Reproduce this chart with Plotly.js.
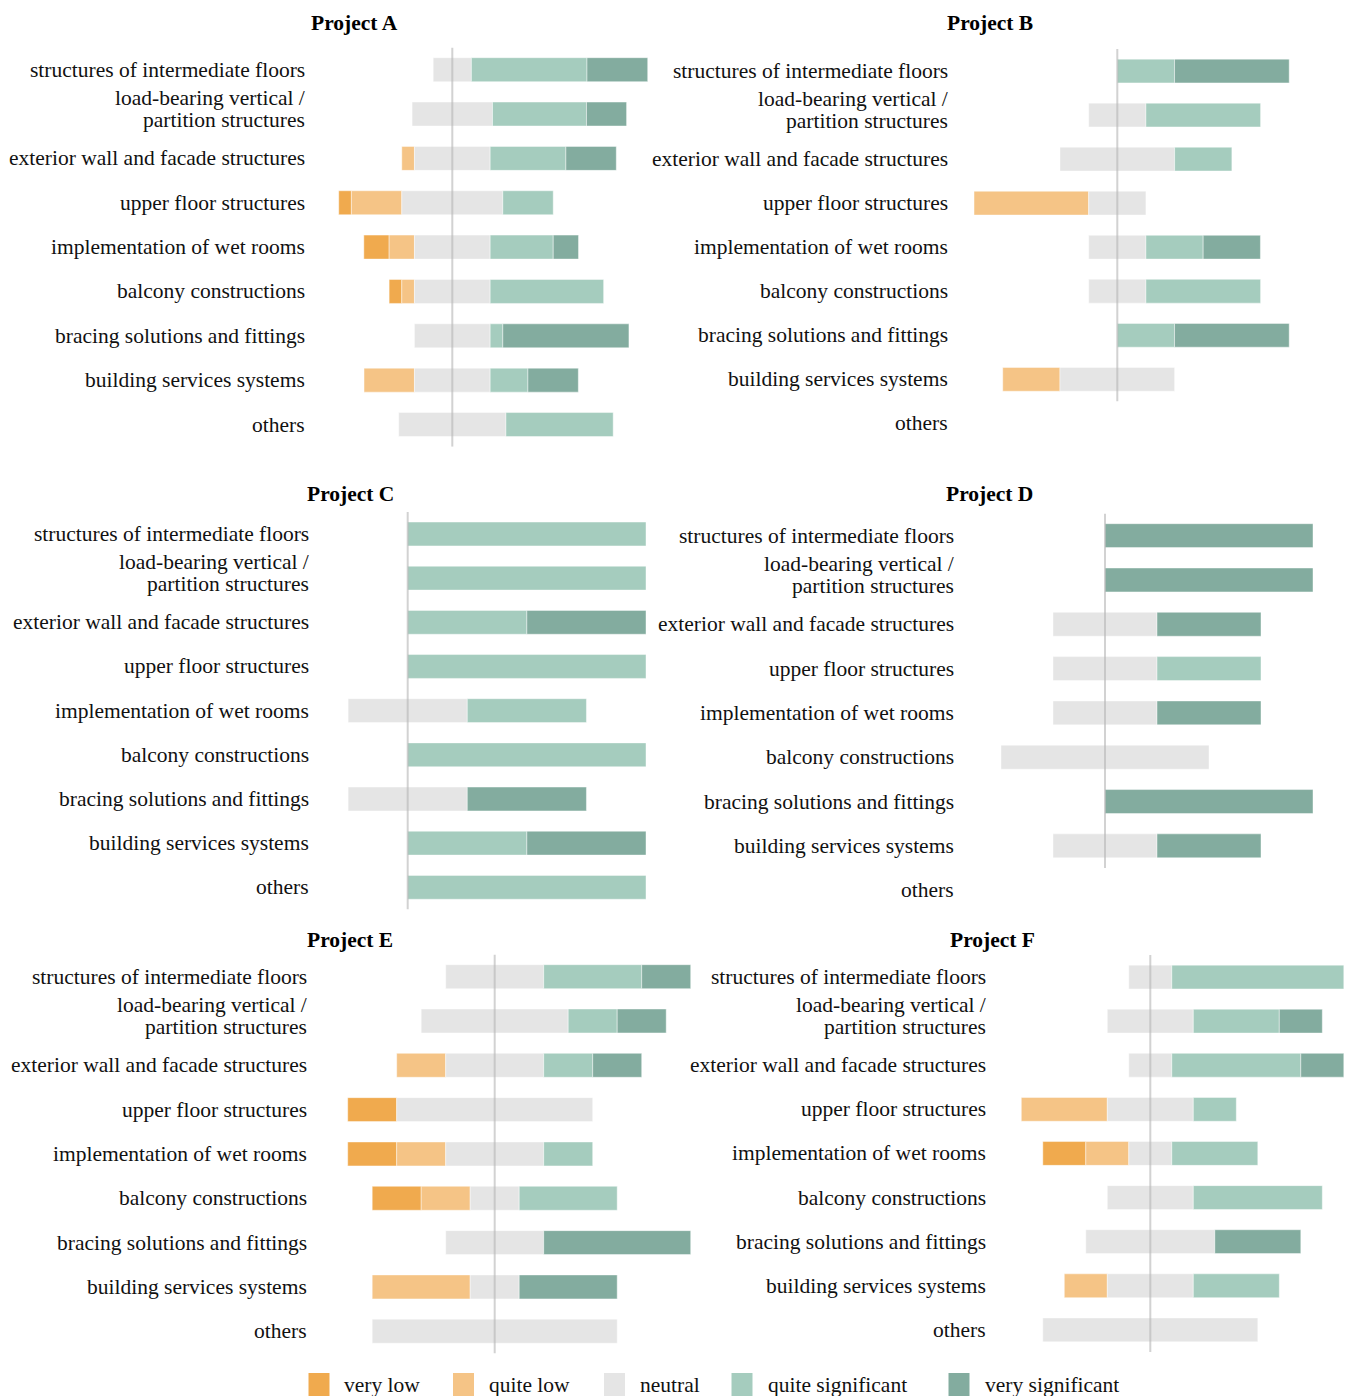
<!DOCTYPE html>
<html><head><meta charset="utf-8">
<script src="https://cdn.plot.ly/plotly-3.0.1.min.js"></script>
<style>html,body{margin:0;padding:0;background:#fff}</style>
</head><body><div id="chart" style="width:1351px;height:1396px"></div>
<script>
// ---------- DATA (share of responses, %) ----------
const categories = [
  'structures of intermediate floors',
  'load-bearing vertical /<br>partition structures',
  'exterior wall and facade structures',
  'upper floor structures',
  'implementation of wet rooms',
  'balcony constructions',
  'bracing solutions and fittings',
  'building services systems',
  'others'
];
const levelNames = ['very low', 'quite low', 'neutral', 'quite significant', 'very significant'];
const levelColors = ['#F0AA4E', '#F5C486', '#E5E5E5', '#A5CCBE', '#83AC9F'];
const projectNames = ['Project A', 'Project B', 'Project C', 'Project D', 'Project E', 'Project F'];

const A_veryLow  = [0, 0, 0, 5.9, 11.8, 5.9, 0, 0, 0];
const A_quiteLow = [0, 0, 5.9, 23.5, 11.8, 5.9, 0, 23.5, 0];
const A_neutral  = [17.8, 37.5, 35.3, 47.1, 35.3, 35.3, 35.3, 35.3, 50];
const A_quiteSig = [53.9, 43.8, 35.3, 23.5, 29.4, 52.9, 5.9, 17.6, 50];
const A_verySig  = [28.3, 18.7, 23.5, 0, 11.8, 0, 58.8, 23.5, 0];

const B_veryLow  = [0, 0, 0, 0, 0, 0, 0, 0, 0];
const B_quiteLow = [0, 0, 0, 66.7, 0, 0, 0, 33.3, 0];
const B_neutral  = [0, 33.3, 66.7, 33.3, 33.3, 33.3, 0, 66.7, 0];
const B_quiteSig = [33.3, 66.7, 33.3, 0, 33.3, 66.7, 33.3, 0, 0];
const B_verySig  = [66.7, 0, 0, 0, 33.3, 0, 66.7, 0, 0];

const C_veryLow  = [0, 0, 0, 0, 0, 0, 0, 0, 0];
const C_quiteLow = [0, 0, 0, 0, 0, 0, 0, 0, 0];
const C_neutral  = [0, 0, 0, 0, 50, 0, 50, 0, 0];
const C_quiteSig = [100, 100, 50, 100, 50, 100, 0, 50, 100];
const C_verySig  = [0, 0, 50, 0, 0, 0, 50, 50, 0];

const D_veryLow  = [0, 0, 0, 0, 0, 0, 0, 0, 0];
const D_quiteLow = [0, 0, 0, 0, 0, 0, 0, 0, 0];
const D_neutral  = [0, 0, 50, 50, 50, 100, 0, 50, 0];
const D_quiteSig = [0, 0, 0, 50, 0, 0, 0, 0, 0];
const D_verySig  = [100, 100, 50, 0, 50, 0, 100, 50, 0];

const E_veryLow  = [0, 0, 0, 20, 20, 20, 0, 0, 0];
const E_quiteLow = [0, 0, 20, 0, 20, 20, 0, 40, 0];
const E_neutral  = [40, 60, 40, 80, 40, 20, 40, 20, 100];
const E_quiteSig = [40, 20, 20, 0, 20, 40, 0, 0, 0];
const E_verySig  = [20, 20, 20, 0, 0, 0, 60, 40, 0];

const F_veryLow  = [0, 0, 0, 0, 20, 0, 0, 0, 0];
const F_quiteLow = [0, 0, 0, 40, 20, 0, 0, 20, 0];
const F_neutral  = [20, 40, 20, 40, 20, 40, 60, 40, 100];
const F_quiteSig = [80, 40, 60, 20, 40, 60, 0, 40, 0];
const F_verySig  = [0, 20, 20, 0, 0, 0, 40, 0, 0];

const projectData = [
  [A_veryLow, A_quiteLow, A_neutral, A_quiteSig, A_verySig],
  [B_veryLow, B_quiteLow, B_neutral, B_quiteSig, B_verySig],
  [C_veryLow, C_quiteLow, C_neutral, C_quiteSig, C_verySig],
  [D_veryLow, D_quiteLow, D_neutral, D_quiteSig, D_verySig],
  [E_veryLow, E_quiteLow, E_neutral, E_quiteSig, E_verySig],
  [F_veryLow, F_quiteLow, F_neutral, F_quiteSig, F_verySig]
];

// ---------- LAYOUT GEOMETRY (pixels) ----------
const W = 1351, H = 1396;
const panels = [
  {L: 314, R: 652,  Z: 452.3,  s: 2.145, top: 47.5,  bottom: 446.7,  lab: 306, tx: 354,   ty: 23},
  {L: 958, R: 1300, Z: 1117.3, s: 1.719, top: 49,    bottom: 445.4,  lab: 949, tx: 990,   ty: 23},
  {L: 318, R: 652,  Z: 407.7,  s: 2.383, top: 511.9, bottom: 909.4,  lab: 310, tx: 350.5, ty: 494},
  {L: 962, R: 1320, Z: 1105,   s: 2.08,  top: 513.5, bottom: 912.3,  lab: 955, tx: 990,   ty: 494},
  {L: 316, R: 695,  Z: 494.7,  s: 2.45,  top: 954.5, bottom: 1353.4, lab: 308, tx: 350,   ty: 940},
  {L: 994, R: 1348, Z: 1150.3, s: 2.15,  top: 955,   bottom: 1351.9, lab: 987, tx: 992,   ty: 940}
];
const FONT = '"Liberation Serif", "Times New Roman", serif';
const LINE_GAP = 22, MULTI_SHIFT = 5;

const traces = [];
const layout = {
  width: W, height: H,
  margin: {l: 0, r: 0, t: 0, b: 0},
  paper_bgcolor: '#fff', plot_bgcolor: 'rgba(0,0,0,0)',
  barmode: 'overlay', bargap: 0.46,
  showlegend: false,
  font: {family: FONT, size: 21.5, color: '#111'},
  annotations: [], shapes: []
};

projectData.forEach((levels, p) => {
  const k = p === 0 ? '' : String(p + 1);
  const [vl, ql, nu, qs, vs] = levels;
  // left edges of each segment, diverging around the middle of "neutral"
  const bases = [
    categories.map((_, i) => -(vl[i] + ql[i] + nu[i] / 2)),
    categories.map((_, i) => -(ql[i] + nu[i] / 2)),
    categories.map((_, i) => -nu[i] / 2),
    categories.map((_, i) => nu[i] / 2),
    categories.map((_, i) => nu[i] / 2 + qs[i])
  ];
  levels.forEach((vals, j) => {
    traces.push({
      type: 'bar', orientation: 'h',
      y: categories, x: vals.map(v => v > 0 ? v : null), base: bases[j],
      name: levelNames[j],
      marker: {color: levelColors[j], line: {width: 0.8, color: 'rgba(255,255,255,0.55)'}},
      xaxis: 'x' + k, yaxis: 'y' + k,
      hoverinfo: 'skip', showlegend: false
    });
  });
  const g = panels[p];
  layout['xaxis' + k] = {
    domain: [g.L / W, g.R / W], anchor: 'y' + k,
    range: [-(g.Z - g.L) / g.s, (g.R - g.Z) / g.s],
    showgrid: false, zeroline: false, showticklabels: false, showline: false, fixedrange: true
  };
  layout['yaxis' + k] = {
    domain: [1 - g.bottom / H, 1 - g.top / H], anchor: 'x' + k,
    type: 'category', categoryorder: 'array', categoryarray: categories,
    range: [categories.length - 0.5, -0.5],
    showgrid: false, zeroline: false, showline: false, ticks: '', showticklabels: false,
    fixedrange: true
  };
  // category labels (right aligned, tight line spacing for wrapped labels)
  categories.forEach((cat, i) => {
    const lines = cat.split('<br>');
    lines.forEach((ln, m) => {
      const shift = lines.length > 1 ? ((lines.length - 1) / 2 - m) * LINE_GAP + MULTI_SHIFT : 0;
      layout.annotations.push({
        text: ln, xref: 'paper', yref: 'y' + k, x: (g.lab + 1) / W, y: i,
        xanchor: 'right', yanchor: 'middle', yshift: shift, showarrow: false,
        font: {family: FONT, size: 21.5, color: '#111'}
      });
    });
  });
  // zero reference line spanning rows that hold data
  let last = -1;
  categories.forEach((_, i) => { if (vl[i] + ql[i] + nu[i] + qs[i] + vs[i] > 0) last = i; });
  layout.shapes.push({
    type: 'line', xref: 'x' + k, yref: 'y' + k, layer: 'above',
    x0: 0, x1: 0, y0: -0.5, y1: last + 0.5,
    line: {color: 'rgba(180,180,180,0.6)', width: 2}
  });
  layout.annotations.push({
    text: '<b>' + projectNames[p] + '</b>', xref: 'paper', yref: 'paper',
    x: g.tx / W, y: 1 - g.ty / H, xanchor: 'center', yanchor: 'middle', showarrow: false,
    font: {family: FONT, size: 21.5, color: '#000'}
  });
});

// ---------- custom legend ----------
const legendX = [308.5, 453, 604, 731.5, 948.5];
legendX.forEach((x, j) => {
  layout.shapes.push({
    type: 'rect', xref: 'paper', yref: 'paper',
    x0: x / W, x1: (x + 21) / W, y0: 0, y1: 1 - 1373 / H,
    fillcolor: levelColors[j], line: {width: 0}
  });
  layout.annotations.push({
    text: levelNames[j], xref: 'paper', yref: 'paper',
    x: (x + 34) / W, y: 1 - 1385 / H, xanchor: 'left', yanchor: 'middle', showarrow: false,
    font: {family: FONT, size: 21.5, color: '#111'}
  });
});

Plotly.newPlot('chart', traces, layout, {displayModeBar: false, staticPlot: true});
</script>
</body></html>
